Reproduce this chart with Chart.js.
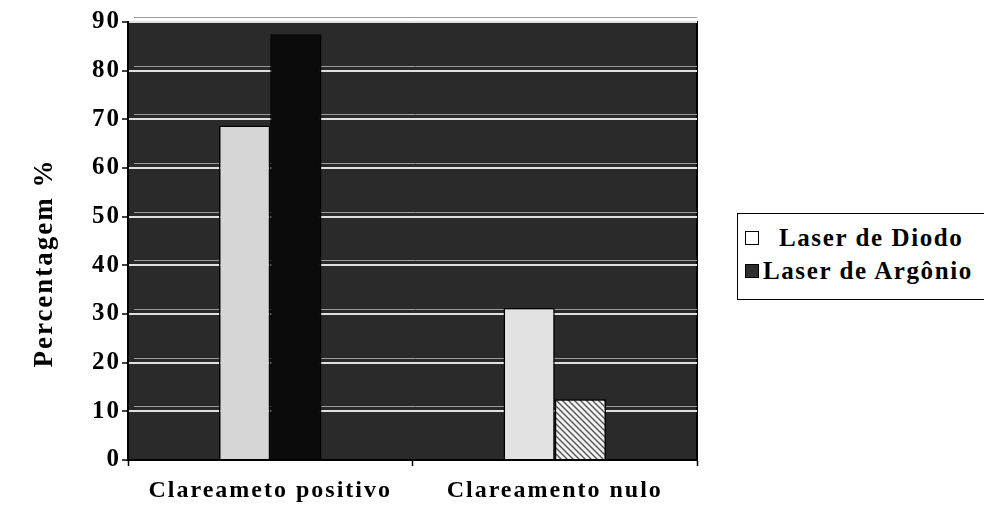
<!DOCTYPE html>
<html lang="pt">
<head>
<meta charset="utf-8">
<title>Clareamento - Laser de Diodo x Laser de Argônio</title>
<script src="https://cdn.jsdelivr.net/npm/chart.js@4/dist/chart.umd.min.js"></script>
<style>
    html, body { margin: 0; padding: 0; background: #fff; overflow: hidden; }
    #wrap { position: relative; width: 984px; height: 506px; }
    #legend {
        position: absolute; left: 737px; top: 213px; width: 270px; height: 87px;
        border: 1.5px solid #000; background: #fff;
        font: bold 25px 'Liberation Serif', 'DejaVu Serif', serif;
        letter-spacing: 1.6px;
        padding: 7px 0 0 7px; box-sizing: border-box;
    }
    #legend div { display: flex; align-items: center; height: 33px; white-space: nowrap; }
    #legend span.box { display: inline-block; flex: none; width: 12px; height: 12px; border: 1.5px solid #000; margin-right: 4px; }
</style>
</head>
<body>
<div id="wrap">
    <canvas id="chart" width="984" height="506"></canvas>
    <div id="legend"></div>
</div>
<script>
// Dados do gráfico
const categories = ['Clareameto positivo', 'Clareamento nulo'];
const seriesNames = ['Laser de Diodo', 'Laser de Argônio'];
const diodoValues = [68.75, 31.25];
const argonioValues = [87.5, 12.5];
const yTicks = [0, 10, 20, 30, 40, 50, 60, 70, 80, 90];
const yTitle = 'Percentagem %';

const FONT = "'Liberation Serif', 'DejaVu Serif', serif";

// Hachura diagonal para a barra cinza
function hatchPattern(bg, line) {
    const c = document.createElement('canvas');
    c.width = 6; c.height = 6;
    const g = c.getContext('2d');
    g.fillStyle = bg;
    g.fillRect(0, 0, 6, 6);
    g.strokeStyle = line;
    g.lineWidth = 1.4;
    g.beginPath();
    g.moveTo(-1, -1); g.lineTo(7, 7);
    g.moveTo(-1, 5); g.lineTo(1, 7);
    g.moveTo(5, -1); g.lineTo(7, 1);
    g.stroke();
    return g.createPattern(c, 'repeat');
}

// Espaçamento entre letras (texto escaneado é mais largo)
const letterSpacing = {
    id: 'letterSpacing',
    beforeUpdate(chart) { chart.ctx.letterSpacing = '2px'; },
    beforeDraw(chart) { chart.ctx.letterSpacing = '2px'; }
};

// Fundo escuro da área do gráfico + linhas da parede de fundo (efeito 3D)
const plotBackground = {
    id: 'plotBackground',
    beforeDraw(chart) {
        const { ctx, chartArea: a } = chart;
        ctx.save();
        ctx.fillStyle = '#2a2a2a';
        ctx.fillRect(a.left, a.top, a.right - a.left, a.bottom - a.top);
        ctx.strokeStyle = '#000';
        ctx.lineWidth = 2;
        ctx.strokeRect(a.left, a.top, a.right - a.left, a.bottom - a.top);
        ctx.restore();
    },
    beforeDatasetsDraw(chart) {
        const { ctx, chartArea: a, scales: { y } } = chart;
        ctx.save();
        ctx.strokeStyle = '#9a9a9a';
        ctx.lineWidth = 1;
        yTicks.slice(1).forEach(v => {
            const py = Math.round(y.getPixelForValue(v)) - 4.5;
            ctx.beginPath();
            ctx.moveTo(a.left + 6, py);
            ctx.lineTo(a.right, py);
            ctx.stroke();
        });
        ctx.restore();
    }
};

// Título do eixo Y (um pouco abaixo do centro, como no original)
const yAxisTitle = {
    id: 'yAxisTitle',
    afterDraw(chart) {
        const ctx = chart.ctx;
        ctx.save();
        ctx.letterSpacing = '2px';
        ctx.font = 'bold 27px ' + FONT;
        ctx.fillStyle = '#000';
        ctx.textAlign = 'center';
        ctx.textBaseline = 'middle';
        ctx.translate(45, 263);
        ctx.rotate(-Math.PI / 2);
        ctx.fillText(yTitle, 0, 0);
        ctx.restore();
    }
};

function buildLegend(colors) {
    const el = document.getElementById('legend');
    seriesNames.forEach((name, i) => {
        const row = document.createElement('div');
        const box = document.createElement('span');
        box.className = 'box';
        box.style.background = colors[i];
        if (i === 0) box.style.marginRight = '20px';
        row.appendChild(box);
        row.appendChild(document.createTextNode(name));
        el.appendChild(row);
    });
}

function createChart() {
    const ctx = document.getElementById('chart').getContext('2d');
    const hatch = hatchPattern('#f2f2f2', '#555');

    new Chart(ctx, {
        type: 'bar',
        data: {
            labels: categories,
            datasets: [{
                label: seriesNames[0],
                data: diodoValues,
                backgroundColor: ['#d6d6d6', '#e2e2e2'],
                borderColor: '#000',
                borderWidth: 1.5,
                categoryPercentage: 0.36,
                barPercentage: 1
            }, {
                label: seriesNames[1],
                data: argonioValues,
                backgroundColor: ['#0b0b0b', hatch],
                borderColor: '#000',
                borderWidth: 1.5,
                categoryPercentage: 0.36,
                barPercentage: 1
            }]
        },
        options: {
            responsive: false,
            animation: false,
            layout: { padding: { top: 22, right: 287, left: 0, bottom: 0 } },
            plugins: {
                legend: { display: false },
                tooltip: { enabled: false }
            },
            scales: {
                x: {
                    afterFit(scale) { scale.height = 46; },
                    grid: {
                        offset: true,
                        drawOnChartArea: false,
                        drawTicks: true,
                        tickLength: 6,
                        tickWidth: 1.5,
                        tickColor: '#000'
                    },
                    border: { color: '#000', width: 2 },
                    ticks: {
                        color: '#000',
                        padding: 10,
                        font: { family: FONT, size: 24, weight: 'bold' }
                    }
                },
                y: {
                    min: 0,
                    max: 90,
                    afterFit(scale) { scale.width = 128; },
                    afterBuildTicks(scale) {
                        scale.ticks = yTicks.map(v => ({ value: v }));
                    },
                    grid: {
                        color: '#e0e0e0',
                        lineWidth: 2,
                        drawTicks: true,
                        tickLength: 6,
                        tickColor: '#000',
                        tickWidth: 1.5
                    },
                    border: { color: '#000', width: 2 },
                    ticks: {
                        color: '#000',
                        padding: 1,
                        font: { family: FONT, size: 25, weight: 'bold' }
                    }
                }
            }
        },
        plugins: [letterSpacing, plotBackground, yAxisTitle]
    });

    buildLegend(['#fff', '#2e2e2e']);
}

window.addEventListener('load', createChart);
</script>
</body>
</html>
